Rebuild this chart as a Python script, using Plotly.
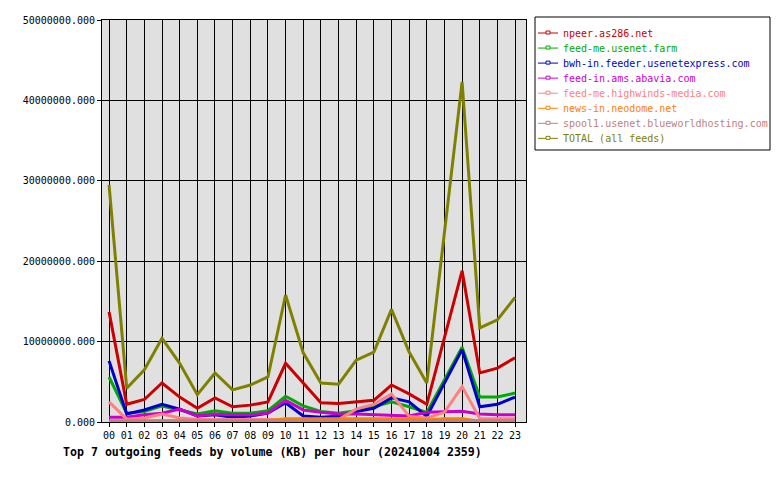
import plotly.graph_objects as go

hours = ["00","01","02","03","04","05","06","07","08","09","10","11",
         "12","13","14","15","16","17","18","19","20","21","22","23"]

series_names = [
    "npeer.as286.net",
    "feed-me.usenet.farm",
    "bwh-in.feeder.usenetexpress.com",
    "feed-in.ams.abavia.com",
    "feed-me.highwinds-media.com",
    "news-in.neodome.net",
    "spool1.usenet.blueworldhosting.com",
    "TOTAL (all feeds)",
]

# values in KB
npeer = [13.7e6, 2.2e6, 2.8e6, 4.85e6, 3.1e6, 1.7e6, 3.0e6, 1.9e6, 2.1e6, 2.5e6, 7.3e6, 4.8e6,
         2.4e6, 2.3e6, 2.5e6, 2.7e6, 4.6e6, 3.5e6, 2.2e6, 10.5e6, 18.8e6, 6.1e6, 6.7e6, 8.0e6]
usenetfarm = [5.6e6, 1.1e6, 1.3e6, 2.0e6, 1.5e6, 1.0e6, 1.4e6, 1.1e6, 1.1e6, 1.4e6, 3.2e6, 2.0e6,
              1.3e6, 1.1e6, 1.4e6, 1.9e6, 2.5e6, 1.9e6, 1.2e6, 5.3e6, 9.3e6, 3.1e6, 3.1e6, 3.6e6]
usenetexpress = [7.6e6, 1.0e6, 1.5e6, 2.2e6, 1.6e6, 0.75e6, 0.9e6, 0.6e6, 0.75e6, 1.1e6, 2.4e6, 0.75e6,
                 0.6e6, 0.7e6, 1.3e6, 1.7e6, 3.0e6, 2.5e6, 0.7e6, 4.9e6, 9.0e6, 1.9e6, 2.2e6, 3.1e6]
abavia = [0.6e6, 0.6e6, 0.9e6, 1.1e6, 1.6e6, 0.75e6, 1.0e6, 0.9e6, 0.9e6, 1.1e6, 2.7e6, 1.5e6,
          1.2e6, 1.0e6, 1.0e6, 0.9e6, 0.8e6, 0.75e6, 1.2e6, 1.3e6, 1.35e6, 1.0e6, 0.9e6, 0.9e6]
highwinds = [2.5e6, 0.35e6, 0.5e6, 1.0e6, 0.5e6, 0.3e6, 0.3e6, 0.3e6, 0.3e6, 0.3e6, 0.3e6, 0.3e6,
             0.3e6, 0.3e6, 1.6e6, 2.2e6, 3.5e6, 0.7e6, 0.5e6, 1.2e6, 4.4e6, 0.45e6, 0.4e6, 0.4e6]
neodome = [0.1e6, 0.1e6, 0.1e6, 0.1e6, 0.1e6, 0.1e6, 0.1e6, 0.1e6, 0.1e6, 0.15e6, 0.4e6, 0.4e6,
           0.4e6, 0.4e6, 0.4e6, 0.4e6, 0.4e6, 0.4e6, 0.25e6, 0.4e6, 0.4e6, 0.1e6, 0.1e6, 0.1e6]
blueworld = [0.15e6] * 24
total = [29.5e6, 4.2e6, 6.5e6, 10.4e6, 7.3e6, 3.4e6, 6.1e6, 4.0e6, 4.6e6, 5.6e6, 15.8e6, 8.6e6,
         4.85e6, 4.7e6, 7.7e6, 8.7e6, 14.0e6, 8.7e6, 4.85e6, 23.8e6, 42.3e6, 11.7e6, 12.7e6, 15.5e6]

y_ticks = [0, 10e6, 20e6, 30e6, 40e6, 50e6]

colors = ["#cc0000", "#00aa00", "#0000cc", "#cc00cc", "#ff8080", "#ff8000", "#c08080", "#808000"]
data = [npeer, usenetfarm, usenetexpress, abavia, highwinds, neodome, blueworld, total]

FONT = "DejaVu Sans Mono"
x = list(range(len(hours)))

fig = go.Figure()
for name, vals, col in zip(series_names, data, colors):
    fig.add_trace(go.Scatter(x=x, y=vals, name=name, mode="lines",
                             line=dict(color=col, width=3), showlegend=False))

L, R, T, B = 102, 254, 20, 58
W, H = 780, 480
pw = W - L - R
ph = H - T - B

def px(xp):
    return (xp - L) / pw

def py(yp):
    return (H - B - yp) / ph

fig.update_layout(
    width=W, height=H,
    margin=dict(l=L, r=R, t=T, b=B, pad=0),
    paper_bgcolor="white",
    plot_bgcolor="#e0e0e0",
    font=dict(family=FONT, size=10, color="black"),
    showlegend=False,
    xaxis=dict(
        range=[-0.4, 23.62],
        tickvals=x, ticktext=hours,
        showgrid=True, gridcolor="black", gridwidth=1,
        showline=True, linecolor="black", linewidth=1, mirror=True,
        ticks="outside", ticklen=4, tickcolor="black",
        zeroline=False,
        tickfont=dict(family=FONT, size=10),
    ),
    yaxis=dict(
        range=[0, 50e6],
        tickvals=y_ticks, tickformat=".3f",
        showgrid=True, gridcolor="black", gridwidth=1,
        showline=True, linecolor="black", linewidth=1, mirror=True,
        ticks="outside", ticklen=4, tickcolor="black",
        zeroline=False,
        tickfont=dict(family=FONT, size=10),
    ),
)

# manual legend box
fig.add_shape(type="rect", xref="paper", yref="paper",
              x0=px(535), x1=px(770), y0=py(150), y1=py(17),
              line=dict(color="black", width=1), fillcolor="white", layer="above")
for i, (name, col) in enumerate(zip(series_names, colors)):
    cy = 33 + i * 15.05
    fig.add_shape(type="line", xref="paper", yref="paper",
                  x0=px(538), x1=px(558), y0=py(cy), y1=py(cy),
                  line=dict(color=col, width=1), layer="above")
    fig.add_shape(type="rect", xref="paper", yref="paper",
                  x0=px(546), x1=px(550), y0=py(cy + 1), y1=py(cy - 2),
                  line=dict(color=col, width=1), fillcolor="white", layer="above")
    fig.add_annotation(text=name, xref="paper", yref="paper",
                       x=px(561), y=py(cy), xanchor="left", yanchor="middle",
                       showarrow=False, font=dict(family=FONT, size=10, color=col))

fig.add_annotation(
    text="<b>Top 7 outgoing feeds by volume (KB) per hour (20241004 2359)</b>",
    xref="paper", yref="paper",
    x=px(61), y=py(452),
    xanchor="left", yanchor="middle", showarrow=False,
    font=dict(family=FONT, size=11.6, color="black"),
)

fig.write_html("out.html")
